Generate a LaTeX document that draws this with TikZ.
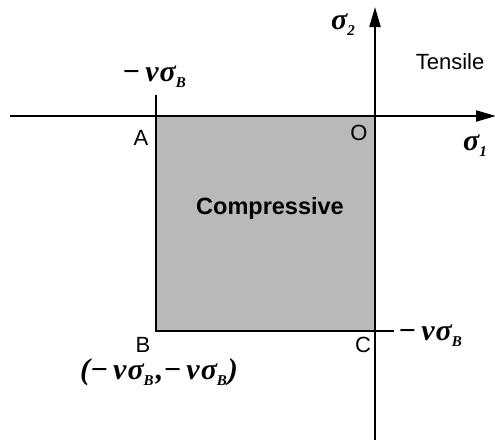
\documentclass[tikz,border=0pt]{standalone}
\usepackage{fontspec}
\setmainfont{Liberation Sans}
\newfontfamily\grk{Liberation Serif}
\usetikzlibrary{arrows.meta}
\newcommand{\gsub}[1]{\raisebox{-0.2em}{\fontsize{15}{15}\selectfont #1}}
\newcommand{\nsB}{−\kern5pt ν\kern1pt σ\gsub{B}}
\begin{document}
\begin{tikzpicture}[x=1pt,y=-1pt,
  axis/.style={line width=2pt,-{Triangle[length=20pt,width=11pt]}},
  edge/.style={line width=2.2pt},
  lab/.style={font=\fontsize{22}{24}\selectfont,inner sep=0pt},
  mlab/.style={font=\fontsize{30}{32}\selectfont\grk\bfseries\itshape,inner sep=0pt}]
\useasboundingbox (0,0) rectangle (495,447);
% region
\fill[gray!55] (156,116) rectangle (375,331);
\draw[edge] (156,116) -- (156,331) -- (375,331);
% axes
\coordinate (xs) at (10,116);
\coordinate (xe) at (496,116);
\coordinate (ys) at (375,440);
\coordinate (ye) at (375,7);
\draw[axis] (xs) -- (xe);
\draw[axis] (ys) -- (ye);
% ticks
\coordinate (ta) at (156,95);
\coordinate (tc) at (394,331);
\draw[line width=1.2pt] (156,116) -- (ta);
\draw[line width=1.2pt] (375,331) -- (tc);
% labels
\node[mlab] (s2) at (343,25) {σ\gsub{2}};
\node[mlab,anchor=west] (s1) at (463,146) {σ\gsub{1}};
\node[lab] (ten) at (450,62) {Tensile};
\node[mlab] (na) at (154,77) {\nsB};
\node[lab] (A) at (141,138) {A};
\node[lab] (O) at (359,133) {O};
\node[lab,font=\fontsize{23.5}{25}\selectfont\bfseries] (comp) at (270,208) {Compressive};
\node[lab] (B) at (143,345) {B};
\node[lab] (C) at (363,345) {C};
\node[mlab,anchor=west] (nc) at (398,336) {\nsB};
\node[mlab] (bc) at (159,372) {(\nsB\kern2pt,\nsB\kern1pt)};
\end{tikzpicture}
\end{document}
